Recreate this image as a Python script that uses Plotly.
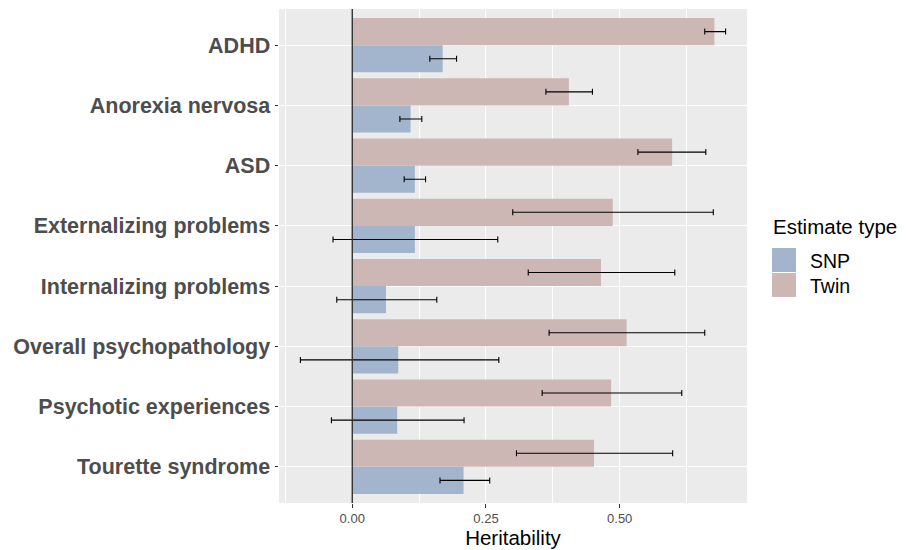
import plotly.graph_objects as go

categories = ["ADHD", "Anorexia nervosa", "ASD", "Externalizing problems",
              "Internalizing problems", "Overall psychopathology",
              "Psychotic experiences", "Tourette syndrome"]

twin_h2 = [0.677, 0.405, 0.598, 0.487, 0.465, 0.513, 0.484, 0.452]
twin_lo = [0.659, 0.362, 0.534, 0.300, 0.329, 0.368, 0.355, 0.307]
twin_hi = [0.698, 0.449, 0.661, 0.675, 0.603, 0.659, 0.616, 0.599]

snp_h2 = [0.169, 0.109, 0.117, 0.117, 0.063, 0.086, 0.084, 0.208]
snp_lo = [0.145, 0.089, 0.097, -0.036, -0.029, -0.097, -0.039, 0.164]
snp_hi = [0.195, 0.130, 0.137, 0.272, 0.158, 0.274, 0.209, 0.257]

x_ticks = [0.0, 0.25, 0.5]
x_tick_labels = ["0.00", "0.25", "0.50"]
x_minor = [-0.125, 0.125, 0.375, 0.625]

series_names = ["SNP", "Twin"]
colors = {"SNP": "#A2B5CD", "Twin": "#CDB7B5"}

fig = go.Figure()

def add_series(name, vals, lo, hi):
    fig.add_trace(go.Bar(
        y=categories, x=vals, orientation="h", name=name,
        marker=dict(color=colors[name], line=dict(width=0)),
        error_x=dict(type="data", symmetric=False,
                     array=[h - v for h, v in zip(hi, vals)],
                     arrayminus=[v - l for v, l in zip(vals, lo)],
                     color="black", thickness=1.1, width=3),
        showlegend=False,
    ))

# Twin first so it sits above SNP within each group (reversed y axis)
add_series("Twin", twin_h2, twin_lo, twin_hi)
add_series("SNP", snp_h2, snp_lo, snp_hi)

fig.add_shape(type="line", xref="x", yref="paper", x0=0, x1=0, y0=0, y1=1,
              line=dict(color="#333333", width=1.4), layer="above")

# custom legend
x0p, x1p = 279.0, 747.0
y0p, y1p = 9.0, 503.0
def px(v):
    return (v - x0p) / (x1p - x0p)
def py(v):
    return (y1p - v) / (y1p - y0p)

fig.add_annotation(text="Estimate type", xref="paper", yref="paper",
                   x=px(771), y=py(227), xanchor="left", yanchor="middle",
                   showarrow=False, font=dict(size=20.5, color="black"))
key_tops = [248, 273]
for name, top in zip(series_names, key_tops):
    fig.add_shape(type="rect", xref="paper", yref="paper",
                  x0=px(772), x1=px(796), y0=py(top + 24), y1=py(top),
                  fillcolor=colors[name], line=dict(width=0))
    fig.add_annotation(text=name, xref="paper", yref="paper",
                       x=px(808), y=py(top + 13), xanchor="left",
                       yanchor="middle", showarrow=False,
                       font=dict(size=19.5, color="black"))

fig.update_layout(
    width=909, height=550, autosize=False,
    margin=dict(l=279, r=162, t=9, b=47, pad=0, autoexpand=False),
    paper_bgcolor="white", plot_bgcolor="#EBEBEB",
    barmode="group", bargap=0.1, bargroupgap=0,
    font=dict(family="Liberation Sans, Arial, sans-serif"),
    showlegend=False,
    xaxis=dict(
        range=[-0.137, 0.738], tickvals=x_ticks, ticktext=x_tick_labels,
        showgrid=True, gridcolor="white", gridwidth=1.1, zeroline=False,
        ticks="outside", ticklen=3.5, tickcolor="#333333", tickwidth=1,
        tickfont=dict(size=13, color="#4D4D4D"),
        minor=dict(tickvals=x_minor, showgrid=True, gridcolor="white",
                   gridwidth=0.55, ticks=""),
        title=dict(text="Heritability", font=dict(size=20.5, color="black"),
                   standoff=2),
        automargin=False,
        showline=False,
    ),
    yaxis=dict(
        categoryorder="array", categoryarray=categories,
        range=[7.6, -0.6],
        showgrid=True, gridcolor="white", gridwidth=1.1, zeroline=False,
        ticks="outside", ticklen=3.5, tickcolor="#333333", tickwidth=1,
        tickfont=dict(size=21.5, color="#4D4D4D", weight="bold"),
        automargin=False,
        showline=False,
    ),
)

fig.write_html(
    "out.html",
    config={"displayModeBar": False},
    post_script=("document.documentElement.style.margin='0';"
                 "document.documentElement.style.padding='0';"
                 "document.documentElement.style.overflow='hidden';"
                 "document.body.style.margin='0';"
                 "document.body.style.padding='0';"
                 "document.body.style.overflow='hidden';"),
)
